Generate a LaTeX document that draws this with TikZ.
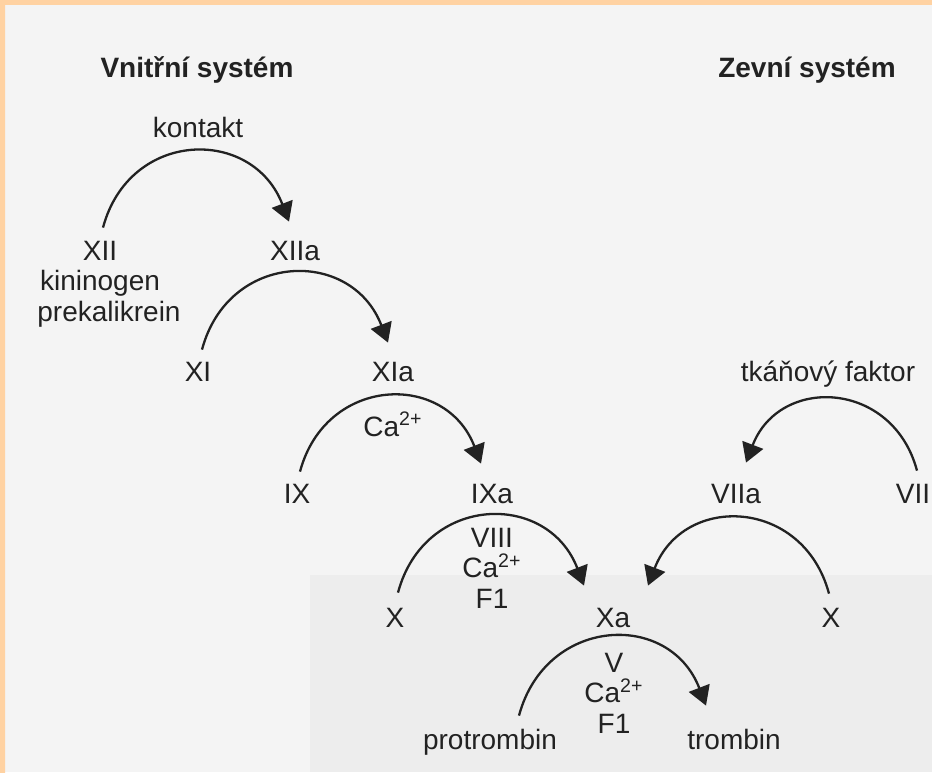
\documentclass[tikz,border=0pt]{standalone}
\usepackage{fontspec}
\setmainfont{Liberation Sans}
\usepackage{tikz}
\usetikzlibrary{arrows.meta}
\usetikzlibrary{positioning,calc}
\definecolor{paper}{HTML}{F4F4F4}
\definecolor{scanshade}{HTML}{EDEDED}
\definecolor{edgepeach}{HTML}{FFD2A2}
\definecolor{edgeorange}{HTML}{F9A86C}
\definecolor{ink}{HTML}{222222}
\tikzset{
    factor/.style={
           inner sep=0pt,
           text height=10pt,
           text depth=0pt,
           font=\fontsize{14}{16}\selectfont,
           text=ink,
           },
    heading/.style={
           factor,
           font=\fontsize{14}{16}\selectfont\bfseries,
           },
    cascade/.style={
           draw=ink,
           line width=1.15pt,
           -{Triangle[length=9.5pt,width=11pt]},
           out=75, in=111, looseness=1.4,
           },
    backcascade/.style={
           cascade,
           out=105, in=69,
           },
}

\begin{document}
\begin{tikzpicture}[x=0.5pt,y=-0.5pt]

 % the scanned page with its orange rim
 \fill[paper] (0,0) rectangle (932,772);
 \fill[scanshade] (310,575) rectangle (932,772);
 \fill[edgepeach] (0,0) rectangle (932,5);
 \shade[top color=edgepeach, middle color=edgeorange, bottom color=edgepeach]
  (0,0) rectangle (5,772);
 \useasboundingbox (0,0) rectangle (932,772);

 % headings of both systems
 \node[heading] (Vnitrni) at (197,67) {Vnitřní systém};
 \node[heading] (Zevni) at (807,67) {Zevní systém};

 % intrinsic system, top to bottom
 \node[factor] (kontakt) at (198,127) {kontakt};
 \node[factor] (XII) at (100,250) {XII};
 \node[factor] (XIIa) at (295,250) {XIIa};
 \node[factor, below=5pt of XII] (kininogen) {kininogen};
 \node[factor, below=5pt of kininogen, xshift=4.5pt] (prekalikrein) {prekalikrein};

 \node[factor] (XI) at (198,371) {XI};
 \node[factor] (XIa) at (393,371) {XIa};

 \node[factor] (Ca IX) at (393,426) {Ca\textsuperscript{2+}};
 \node[factor] (IX) at (297,493) {IX};
 \node[factor] (IXa) at (492,493) {IXa};

 % cofactors under IXa
 \node[factor] (VIII) at (492,537) {VIII};
 \node[factor, below=5pt of VIII] (Ca X) {Ca\textsuperscript{2+}};
 \node[factor, below=5pt of Ca X] (F1 X) {F1};

 \node[factor] (X intrinsic) at (395,617) {X};
 \node[factor] (Xa) at (613,617) {Xa};

 % extrinsic system
 \node[factor] (tkanovy) at (828,371) {tkáňový faktor};
 \node[factor] (VIIa) at (736,493) {VIIa};
 \node[factor] (VII) at (913,493) {VII};
 \node[factor] (X extrinsic) at (831,617) {X};

 % common path to thrombin
 \node[factor] (V) at (614,662) {V};
 \node[factor, below=5pt of V] (Ca II) {Ca\textsuperscript{2+}};
 \node[factor, below=5pt of Ca II] (F1 II) {F1};
 \node[factor] (protrombin) at (490,739) {protrombin};
 \node[factor] (trombin) at (734,739) {trombin};

 % activation arcs, each ends with a filled head above the product
 \path ($(XII.north)+(3,-12)$)          edge[cascade]     ($(XIIa.north)+(-6,-18)$)
       ($(XI.north)+(4,-11)$)           edge[cascade]     ($(XIa.north)+(-5,-18)$)
       ($(IX.north)+(3,-11)$)           edge[cascade]     ($(IXa.north)+(-11,-19)$)
       ($(X intrinsic.north)+(3,-14)$)  edge[cascade]     ($(Xa.north)+(-29,-21)$)
       ($(protrombin.north)+(29,-13)$)  edge[cascade]     ($(trombin.north)+(-28,-23)$)
       ($(VII.north)+(4,-12)$)          edge[backcascade] ($(VIIa.north)+(10,-20)$)
       ($(X extrinsic.north)+(-2,-13)$) edge[backcascade] ($(Xa.north)+(35,-21)$);

\end{tikzpicture}
\end{document}
